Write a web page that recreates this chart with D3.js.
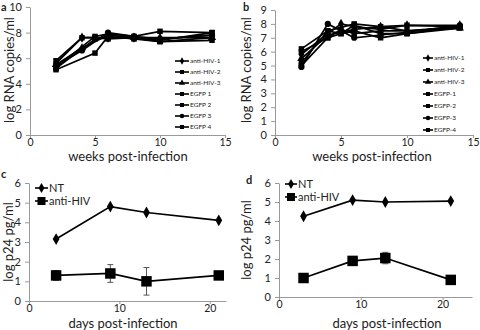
<!DOCTYPE html>
<html>
<head>
<meta charset="utf-8">
<script src="https://cdn.jsdelivr.net/npm/d3@7"></script>
<style>
  body { margin: 0; background: #fff; }
  svg text { font-family: Lato, "Open Sans", sans-serif; fill: #222; }
  .axis path, .axis line { stroke: #999; }
</style>
</head>
<body>
<svg id="chart" width="480" height="330"></svg>
<script>
// weeks sampled in panels a and b
const weeksA = [2, 4, 5, 6, 8, 10, 14];

// panel a: log RNA copies/ml, null where a series has no point
const aNames = ['anti-HIV-1', 'anti-HIV-2', 'anti-HIV-3', 'EGFP 1', 'EGFP 2', 'EGFP 3', 'EGFP 4'];
const aValues = [
  [5.6, 7.6, null, 7.6, 7.6, 7.5, 7.8],
  [5.3, null, 7.7, 7.9, 7.7, 8.1, 8.0],
  [5.5, 6.8, null, 7.8, 7.6, 7.6, 7.6],
  [5.1, null, 6.4, 7.7, 7.5, 7.3, 7.4],
  [5.8, 7.6, 7.6, 7.5, 7.6, 7.4, 8.0],
  [5.4, 6.6, null, 8.0, 7.7, 7.5, 7.8],
  [5.2, null, 7.5, 7.6, 7.6, 7.3, 7.6]
];

// panel b
const bNames = ['anti-HIV-1', 'anti-HIV-2', 'anti-HIV-3', 'EGFP-1', 'EGFP-2', 'EGFP-3', 'EGFP-4'];
const bValues = [
  [5.8, 7.3, 8.0, 7.8, 7.6, 7.9, 7.9],
  [6.2, 7.5, null, 8.0, 7.8, 7.9, 7.8],
  [5.5, 7.2, null, 7.6, 7.8, 7.5, 7.7],
  [6.0, 7.0, 7.3, 7.5, 7.0, 7.3, 7.8],
  [5.2, 7.5, 7.3, 7.9, 7.3, 7.3, 7.7],
  [4.9, 8.0, 7.5, 7.0, 7.2, 7.4, 7.9],
  [5.0, 7.0, 7.6, 7.3, 7.5, 7.5, 7.8]
];
const markers = ['diamond', 'square', 'triangle', 'square', 'square', 'circle', 'square'];

// panels c and d: days post-infection
const days = [3, 9, 13, 21];
const pNames = ['NT', 'anti-HIV'];
const cNT = [3.15, 4.8, 4.5, 4.1];
const cHIV = [1.3, 1.4, 1.0, 1.3];
const cHIVerr = [0.25, 0.45, 0.7, 0.05];
const dNT = [4.25, 5.1, 5.0, 5.05];
const dHIV = [1.0, 1.9, 2.05, 0.9];
const dHIVerr = [0.15, 0.05, 0.3, 0.05];

const svg = d3.select('#chart');

function symbolFor(name, size) {
  const t = {diamond: d3.symbolDiamond, square: d3.symbolSquare,
             triangle: d3.symbolTriangle, circle: d3.symbolCircle}[name];
  return d3.symbol().type(t).size(size)();
}

function panel(opt) {
  const g = svg.append('g');
  const x = d3.scaleLinear().domain(opt.xDomain).range(opt.xRange);
  const y = d3.scaleLinear().domain(opt.yDomain).range(opt.yRange);

  g.append('g').attr('class', 'axis')
    .attr('transform', 'translate(0,' + opt.yRange[0] + ')')
    .call(d3.axisBottom(x).tickValues(opt.xTicks).tickSize(3).tickSizeOuter(0).tickPadding(1))
    .call(a => a.selectAll('text').style('font-size', '10.5px').attr('fill', '#333'));
  g.append('g').attr('class', 'axis')
    .attr('transform', 'translate(' + opt.xRange[0] + ',0)')
    .call(d3.axisLeft(y).ticks(opt.yTicks).tickSize(4).tickSizeOuter(0).tickPadding(4))
    .call(a => a.selectAll('text').style('font-size', '11px').attr('fill', '#333'));

  // series lines + markers
  opt.series.forEach(s => {
    const pts = s.values.map((v, j) => ({x: s.xs[j], y: v})).filter(p => p.y != null);
    const line = d3.line().x(p => x(p.x)).y(p => y(p.y));
    if (s.err) {
      g.selectAll(null).data(s.values.map((v, j) => ({x: s.xs[j], y: v, e: s.err[j]})))
        .enter().append('path')
        .attr('d', p => 'M' + x(p.x) + ',' + y(p.y - p.e) + 'V' + y(p.y + p.e) +
          'M' + (x(p.x) - 3) + ',' + y(p.y - p.e) + 'h6M' + (x(p.x) - 3) + ',' + y(p.y + p.e) + 'h6')
        .attr('stroke', '#555').attr('stroke-width', 1).attr('fill', 'none');
    }
    g.append('path').attr('d', line(pts))
      .attr('fill', 'none').attr('stroke', '#000').attr('stroke-width', 1.7);
    g.selectAll(null).data(pts).enter().append('path')
      .attr('transform', p => 'translate(' + x(p.x) + ',' + y(p.y) + ')')
      .attr('d', symbolFor(s.marker, s.size)).attr('fill', '#000');
  });

  // legend
  opt.series.forEach((s, i) => {
    const ly = opt.legend.y + i * opt.legend.step;
    const lx = opt.legend.x;
    g.append('line').attr('x1', lx).attr('x2', lx + opt.legend.len)
      .attr('y1', ly).attr('y2', ly).attr('stroke', '#000').attr('stroke-width', 1.6);
    g.append('path').attr('transform', 'translate(' + (lx + opt.legend.len / 2) + ',' + ly + ')')
      .attr('d', symbolFor(s.marker, s.legendSize)).attr('fill', '#000');
    g.append('text').attr('x', lx + opt.legend.len + 1).attr('y', ly)
      .attr('dy', '0.35em').style('font-size', opt.legend.font + 'px').text(s.name);
  });

  g.append('text').attr('x', opt.label[0]).attr('y', opt.label[1])
    .style('font-size', '11px').style('font-weight', 'bold').text(opt.letter);
  g.append('text').attr('x', opt.xTitleX).attr('y', opt.xTitleY)
    .attr('text-anchor', 'middle').style('font-size', '13px').text(opt.xTitle);
  g.append('text').attr('transform', 'translate(' + opt.yTitlePos[0] + ',' + opt.yTitlePos[1] + ') rotate(-90)')
    .attr('text-anchor', 'middle').style('font-size', '13px').text(opt.yTitle);
}

panel({
  letter: 'a', label: [1, 11],
  xDomain: [0, 15], xRange: [30, 225], xTicks: [0, 5, 10, 15],
  yDomain: [0, 10], yRange: [135, 7], yTicks: 5,
  series: aNames.map((n, i) => ({name: n, xs: weeksA, values: aValues[i], marker: markers[i], size: 30, legendSize: 16})),
  legend: {x: 175, y: 61, step: 11, len: 14, font: 6.5},
  xTitle: 'weeks post-infection', xTitleX: 128, xTitleY: 161,
  yTitle: 'log RNA copies/ml', yTitlePos: [14, 70]
});

panel({
  letter: 'b', label: [243, 11],
  xDomain: [0, 15], xRange: [275, 473], xTicks: [0, 5, 10, 15],
  yDomain: [0, 9], yRange: [135, 10], yTicks: 9,
  series: bNames.map((n, i) => ({name: n, xs: weeksA, values: bValues[i], marker: markers[i], size: 30, legendSize: 16})),
  legend: {x: 423, y: 58, step: 12, len: 10, font: 6.5},
  xTitle: 'weeks post-infection', xTitleX: 372, xTitleY: 161,
  yTitle: 'log RNA copies/ml', yTitlePos: [251, 70]
});

panel({
  letter: 'c', label: [1, 178],
  xDomain: [0, 21.8], xRange: [29, 226], xTicks: [0, 10, 20],
  yDomain: [0, 6], yRange: [301, 183], yTicks: 6,
  series: [
    {name: pNames[0], xs: days, values: cNT, marker: 'diamond', size: 40, legendSize: 30},
    {name: pNames[1], xs: days, values: cHIV, err: cHIVerr, marker: 'square', size: 110, legendSize: 64}
  ],
  legend: {x: 35, y: 188, step: 13, len: 13, font: 11},
  xTitle: 'days post-infection', xTitleX: 123, xTitleY: 328,
  yTitle: 'log p24 pg/ml', yTitlePos: [13, 242]
});

panel({
  letter: 'd', label: [246, 184],
  xDomain: [0, 23.6], xRange: [279, 472], xTicks: [0, 10, 20],
  yDomain: [0, 6], yRange: [297, 183], yTicks: 6,
  series: [
    {name: pNames[0], xs: days, values: dNT, marker: 'diamond', size: 40, legendSize: 30},
    {name: pNames[1], xs: days, values: dHIV, err: dHIVerr, marker: 'square', size: 110, legendSize: 64}
  ],
  legend: {x: 285, y: 184, step: 13, len: 12, font: 11},
  xTitle: 'days post-infection', xTitleX: 387, xTitleY: 328,
  yTitle: 'log p24 pg/ml', yTitlePos: [251, 240]
});
</script>
</body>
</html>
